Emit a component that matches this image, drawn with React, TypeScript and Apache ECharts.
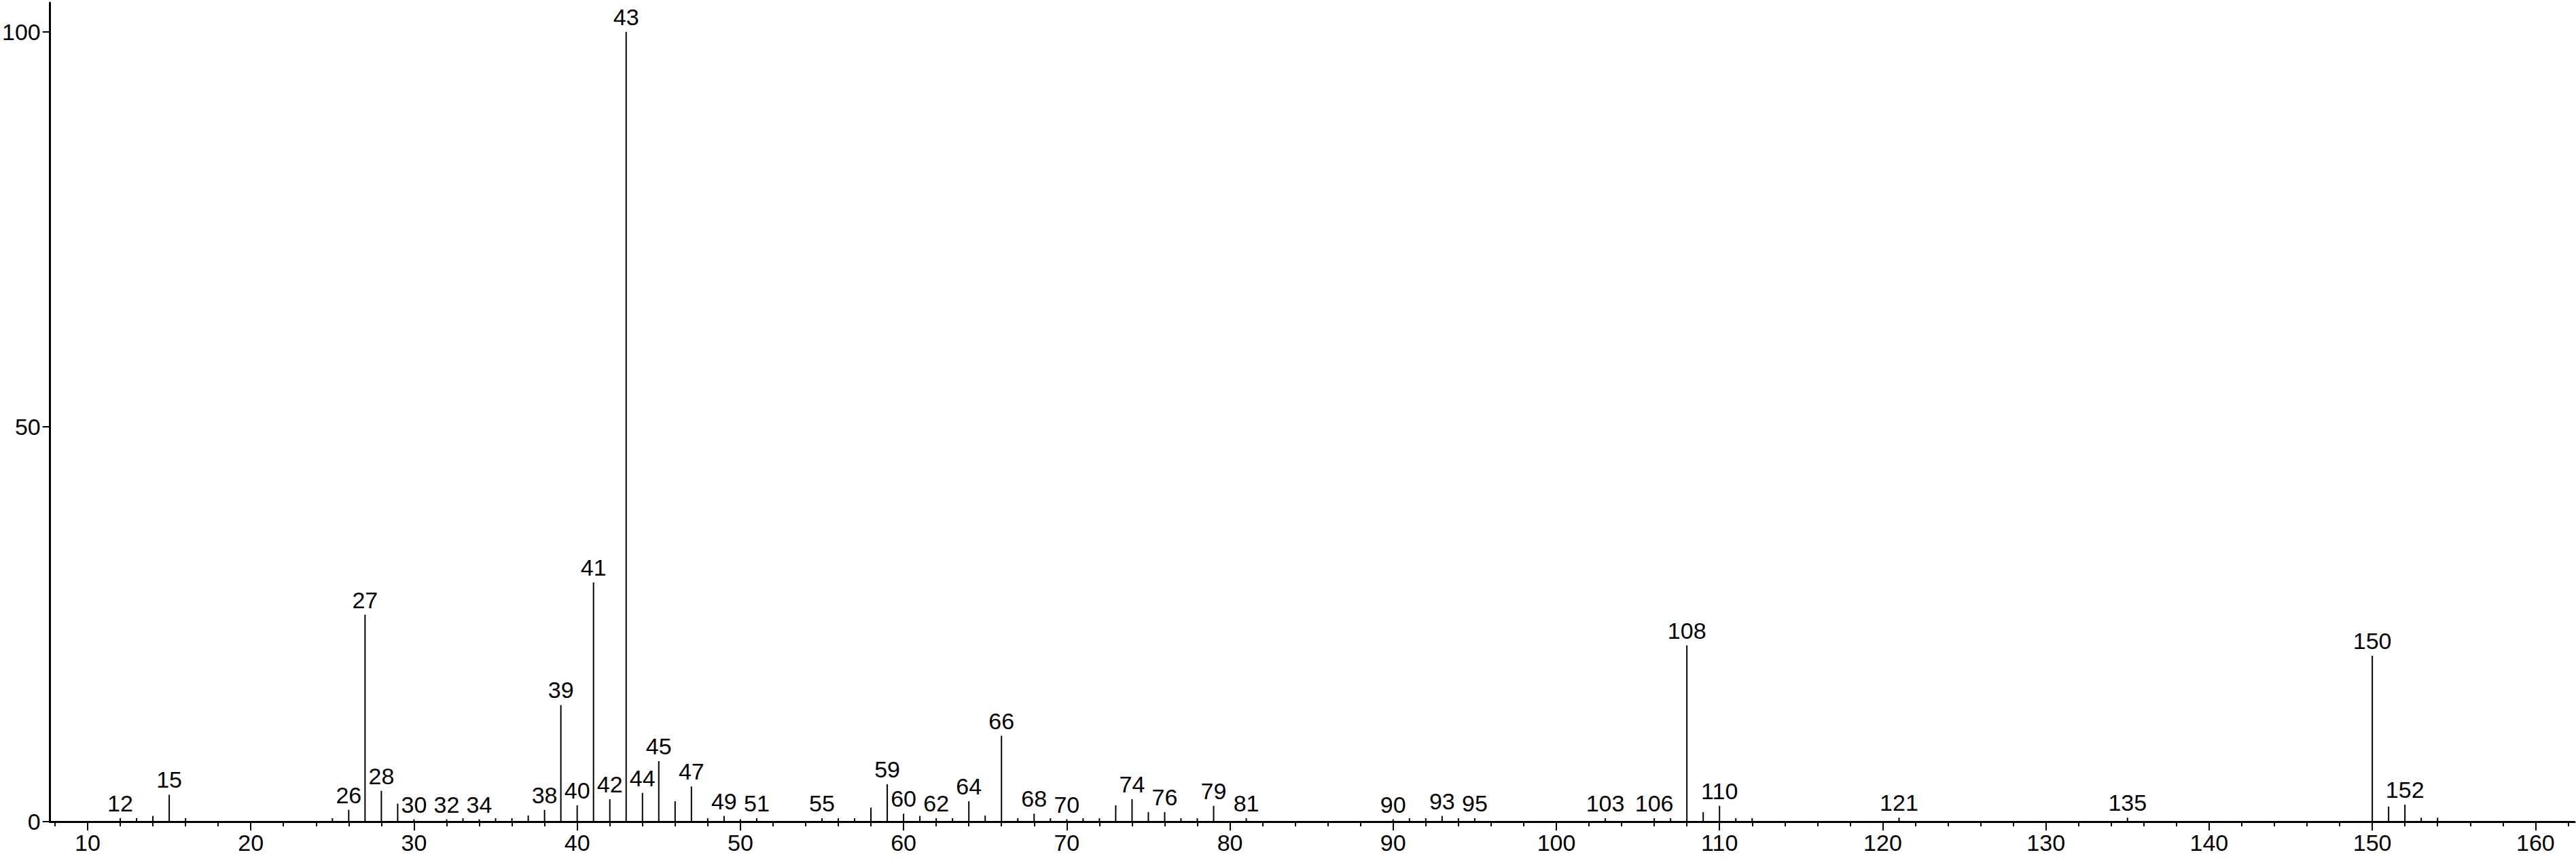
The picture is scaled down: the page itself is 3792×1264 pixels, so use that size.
import React, { useEffect, useRef } from "react";
import * as echarts from "echarts";

// m/z values of the peaks
const mz = [
  12, 13, 14, 15, 16, 25, 26, 27, 28, 29, 30, 32, 33, 34, 35, 36, 37, 38, 39, 40,
  41, 42, 43, 44, 45, 46, 47, 48, 49, 50, 51, 55, 56, 57, 58, 59, 60, 61, 62, 63,
  64, 65, 66, 67, 68, 69, 70, 71, 72, 73, 74, 75, 76, 77, 78, 79, 81, 90, 91, 92,
  93, 94, 95, 103, 106, 107, 108, 109, 110, 111, 112, 121, 135, 150, 151, 152, 153, 154,
];
// relative intensities (%)
const intensity = [
  0.43, 0.43, 0.72, 3.4, 0.43, 0.43, 1.5, 26.2, 3.9, 2.27, 0.3, 0.3, 0.43, 0.3, 0.43, 0.43, 0.77, 1.49, 14.76, 2.07,
  30.3, 2.84, 100, 3.64, 7.66, 2.58, 4.45, 0.43, 0.72, 0.3, 0.43, 0.43, 0.43, 0.43, 1.78, 4.73, 1.0, 0.72, 0.43, 0.43,
  2.58, 0.77, 10.87, 0.43, 1.0, 0.43, 0.3, 0.43, 0.43, 2.07, 2.84, 1.2, 1.2, 0.43, 0.43, 2.0, 0.43, 0.3, 0.43, 0.43,
  0.72, 0.43, 0.43, 0.43, 0.43, 0.43, 22.3, 1.2, 2.0, 0.43, 0.43, 0.5, 0.5, 21.0, 1.9, 2.15, 0.5, 0.5,
];
// peaks that carry an m/z label
const labeledPeaks = [
  12, 15, 26, 27, 28, 30, 32, 34, 38, 39, 40, 41, 42, 43, 44, 45, 47, 49, 51, 55,
  59, 60, 62, 64, 66, 68, 70, 74, 76, 79, 81, 90, 93, 95, 103, 106, 108, 110, 121, 135, 150, 152,
];
// axis ticks and labels
const xLabelValues = [10, 20, 30, 40, 50, 60, 70, 80, 90, 100, 110, 120, 130, 140, 150, 160];
const xMinorTicks = [
  8, 10, 12, 14, 16, 18, 20, 22, 24, 26, 28, 30, 32, 34, 36, 38, 40, 42, 44, 46, 48, 50,
  52, 54, 56, 58, 60, 62, 64, 66, 68, 70, 72, 74, 76, 78, 80, 82, 84, 86, 88, 90, 92, 94,
  96, 98, 100, 102, 104, 106, 108, 110, 112, 114, 116, 118, 120, 122, 124, 126, 128, 130,
  132, 134, 136, 138, 140, 142, 144, 146, 148, 150, 152, 154, 156, 158, 160, 162,
];
const yLabelValues = [0, 50, 100];

const FONT = "'Liberation Sans Narrow', 'Liberation Sans', Arial, sans-serif";

export default function App() {
  const ref = useRef<HTMLDivElement>(null);
  useEffect(() => {
    document.body.style.margin = "0";
    if (!ref.current) return;
    const chart = echarts.init(ref.current, undefined, { renderer: "svg" });
    const data = mz.map((m, i) => {
      const item: any = { value: [m, intensity[i]] };
      if (labeledPeaks.includes(m)) item.label = { show: true };
      return item;
    });
    chart.setOption({
      animation: false,
      backgroundColor: "#ffffff",
      grid: { left: 70, right: 2, top: 4, bottom: 55, containLabel: false },
      xAxis: [
        {
          type: "value",
          min: 7.7,
          max: 162.4,
          position: "bottom",
          axisLine: { show: true, onZero: false, lineStyle: { color: "#000", width: 3 } },
          axisTick: { show: true, customValues: xMinorTicks, length: 7, lineStyle: { color: "#000", width: 2 } },
          axisLabel: {
            show: true,
            customValues: xLabelValues,
            fontSize: 34,
            fontFamily: FONT,
            color: "#000",
            margin: 14,
          },
          splitLine: { show: false },
        },
        {
          type: "value",
          min: 7.7,
          max: 162.4,
          position: "bottom",
          axisLine: { show: false, onZero: false },
          axisTick: { show: true, customValues: xLabelValues, length: 13, lineStyle: { color: "#000", width: 2 } },
          axisLabel: { show: false },
          splitLine: { show: false },
        },
      ],
      yAxis: {
        type: "value",
        min: 0,
        max: 103.7,
        axisLine: { show: true, onZero: false, lineStyle: { color: "#000", width: 3 } },
        axisTick: { show: true, customValues: yLabelValues, length: 11, lineStyle: { color: "#000", width: 2 } },
        axisLabel: {
          show: true,
          customValues: yLabelValues,
          fontSize: 34,
          fontFamily: FONT,
          color: "#000",
          margin: 14,
        },
        splitLine: { show: false },
      },
      series: [
        {
          type: "bar",
          xAxisIndex: 0,
          yAxisIndex: 0,
          barWidth: 2,
          itemStyle: { color: "#000" },
          label: {
            show: false,
            position: "top",
            distance: 5,
            fontSize: 34,
            fontFamily: FONT,
            color: "#000",
            formatter: (p: any) => String(p.value[0]),
          },
          data,
        },
      ],
    });
    return () => chart.dispose();
  }, []);
  return <div ref={ref} style={{ width: 3792, height: 1264 }} />;
}
